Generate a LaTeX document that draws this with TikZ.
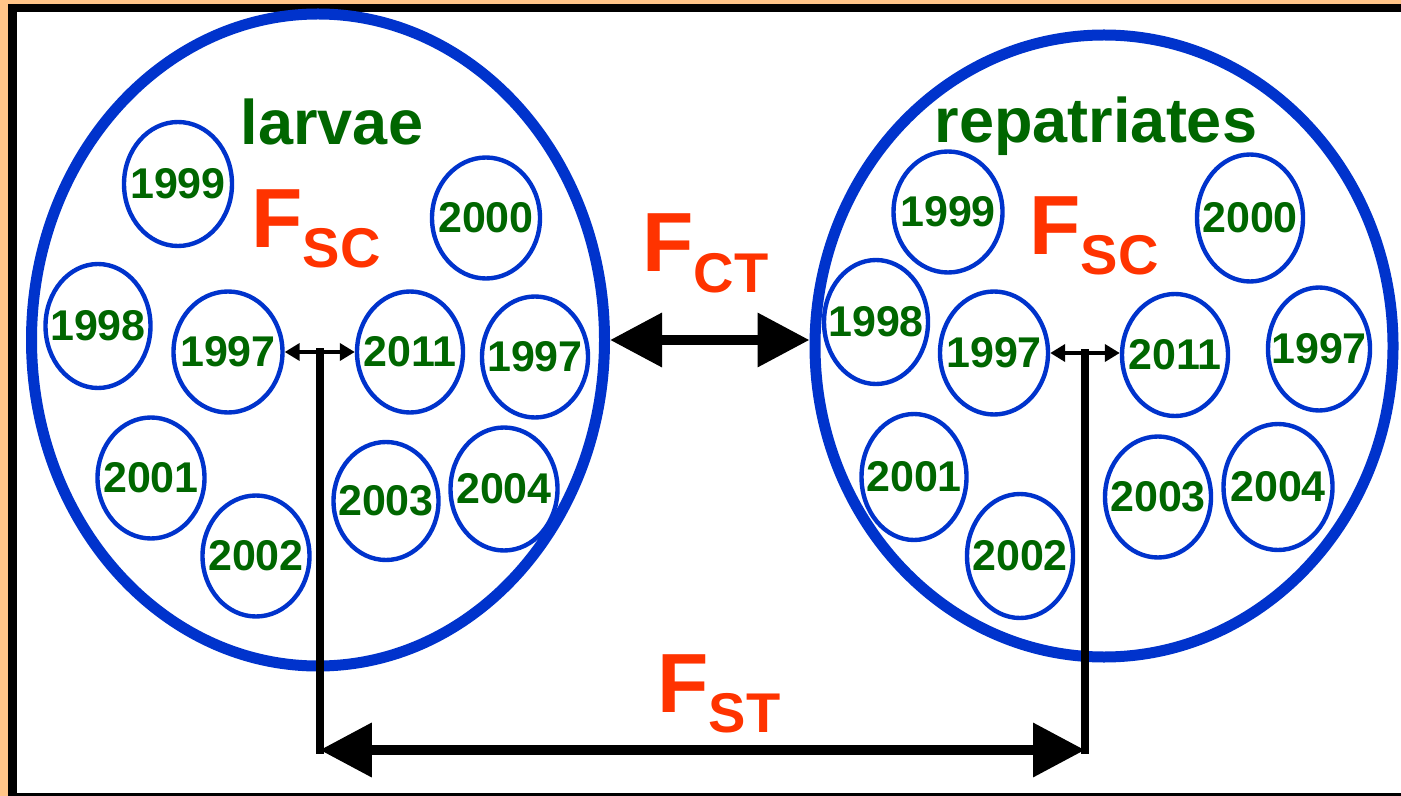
\documentclass[tikz,border=0pt]{standalone}
\usepackage{fontspec}
\setmainfont{Liberation Sans}
\usetikzlibrary{shapes.geometric,arrows.meta,calc}
\definecolor{frameorange}{RGB}{255,196,136}
\definecolor{ringblue}{RGB}{0,51,204}
\definecolor{yeargreen}{RGB}{0,102,0}
\definecolor{fred}{RGB}{255,51,0}
\tikzset{
  bigring/.style 2 args={draw=ringblue, line width=5.5pt, ellipse, inner sep=0pt,
    minimum width=#1*0.5pt, minimum height=#2*0.5pt},
  yr/.style n args={3}{draw=ringblue, line width=2.2pt, ellipse, inner sep=0pt,
    minimum width=#1*0.5pt, minimum height=#2*0.5pt,
    label={[yeartext]center:#3}},
  yeartext/.style={text=yeargreen, font=\fontsize{21.5}{21}\selectfont\bfseries, inner sep=0pt},
  grouptitle/.style={text=yeargreen, font=\fontsize{31.5}{32}\selectfont\bfseries, inner sep=0pt, anchor=base},
  fstat/.style={text=fred, inner sep=0pt, anchor=base west},
  smallarrow/.style={line width=2pt, {Triangle[length=7.5pt,width=8.5pt]}-{Triangle[length=7.5pt,width=8.5pt]}},
  bigarrow/.style={line width=5pt, {Triangle[length=26pt,width=26pt]}-{Triangle[length=26pt,width=26pt]}},
  stem/.style={line width=4pt, line cap=rect},
}
\newcommand{\Fstat}[1]{{\fontsize{42}{42}\selectfont\bfseries F}{\fontsize{28}{28}\selectfont\bfseries\raisebox{-10pt}{#1}}}
\begin{document}
\begin{tikzpicture}[x=0.5pt,y=-0.5pt]
  % frame
  \fill[frameorange] (0,0) rectangle (1401,796);
  \fill[black] (8,4) rectangle (1401,796);
  \fill[white] (17,12) rectangle (1401,793);
  \useasboundingbox (0,0) rectangle (1401,796);

  % the two groups
  \node[bigring={573}{652}] (Lbig) at (318,340) {};
  \node[bigring={578}{622}] (Rbig) at (1104,346) {};

  \node[grouptitle] (Ltitle) at (332,145) {larvae};
  \node[grouptitle] (Rtitle) at (1096,143) {repatriates};

  % left group: yearly samples
  \node[yr={108}{124}{1999}] (L1999) at (178,184) {};
  \node[yr={108}{121}{2000}] (L2000) at (486,218) {};
  \node[yr={105}{124}{1998}] (L1998) at (98,326) {};
  \node[yr={109}{121}{1997}] (L1997) at (228,352) {};
  \node[yr={106}{121}{2011}] (L2011) at (410,352) {};
  \node[yr={106}{121}{1997}] (L1997b) at (535,357) {};
  \node[yr={107}{121}{2001}] (L2001) at (151,478) {};
  \node[yr={107}{121}{2002}] (L2002) at (256,556) {};
  \node[yr={105}{118}{2003}] (L2003) at (386,501) {};
  \node[yr={107}{123}{2004}] (L2004) at (504,489) {};

  % right group: yearly samples
  \node[yr={109}{121}{1999}] (R1999) at (948,212) {};
  \node[yr={106}{127}{2000}] (R2000) at (1250,218) {};
  \node[yr={104}{124}{1998}] (R1998) at (876,322) {};
  \node[yr={108}{123}{1997}] (R1997) at (994,353) {};
  \node[yr={106}{122}{2011}] (R2011) at (1175,355) {};
  \node[yr={102}{123}{1997}] (R1997b) at (1319,349) {};
  \node[yr={105}{126}{2001}] (R2001) at (914,477) {};
  \node[yr={106}{124}{2002}] (R2002) at (1020,556) {};
  \node[yr={106}{121}{2003}] (R2003) at (1158,497) {};
  \node[yr={109}{126}{2004}] (R2004) at (1278,487) {};

  % F-statistics
  \node[fstat] (LFsc) at (251,248) {\Fstat{SC}};
  \node[fstat] (RFsc) at (1029,255) {\Fstat{SC}};
  \node[fstat] (Fct) at (642,272) {\Fstat{CT}};
  \node[fstat] (Fst) at (657,712) {\Fstat{ST}};

  % comparisons within groups
  \draw[smallarrow] (L1997.east) -- (L1997.east -| L2011.west);
  \draw[smallarrow] (R1997.east) -- (R1997.east -| R2011.west);
  \coordinate (Ltop) at ($(L1997.east)!0.5!(L1997.east -| L2011.west)$);
  \coordinate (Rtop) at ($(R1997.east)!0.5!(R1997.east -| R2011.west)$);
  \coordinate (Lbot) at (Ltop |- 0,750);
  \coordinate (Rbot) at (Rtop |- 0,750);

  % comparison between groups
  \draw[bigarrow] (Lbig.east) -- (Lbig.east -| Rbig.west);

  % overall comparison
  \draw[stem] (Ltop) -- (Lbot);
  \draw[stem] (Rtop) -- (Rbot);
  \draw[bigarrow] (Lbot) -- (Rbot);
\end{tikzpicture}
\end{document}
